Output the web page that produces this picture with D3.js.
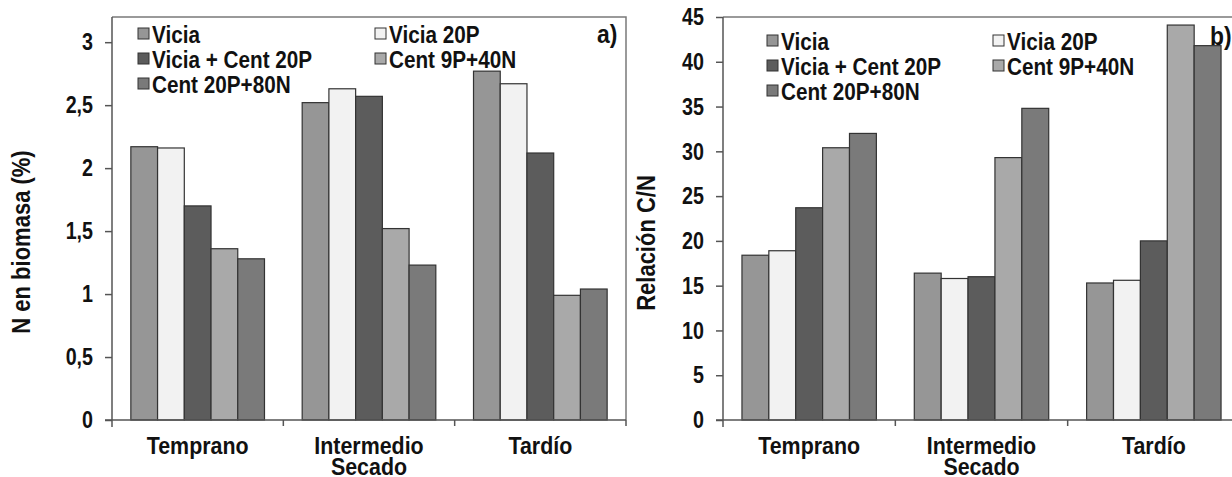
<!DOCTYPE html>
<html>

<head>
    <meta charset="UTF-8">
    <title>N en biomasa y relación C/N</title>
    <style>
        body {
            margin: 0;
            background-color: white;
        }
        svg text {
            font-family: "Liberation Sans", Arial, sans-serif;
            font-weight: bold;
            fill: #111;
        }
    </style>
</head>

<body>
    <svg></svg>
    <script src="https://d3js.org/d3.v7.min.js"></script>
    <script>
        // categories (momento de secado) and treatments
        let categories = ["Temprano", "Intermedio", "Tardío"]
        let catLines = [["Temprano"], ["Intermedio", "Secado"], ["Tardío"]]
        let series = ["Vicia", "Vicia 20P", "Vicia + Cent 20P", "Cent 9P+40N", "Cent 20P+80N"]
        let seriesColor = d3.scaleOrdinal(series, ["#969696", "#f2f2f2", "#5c5c5c", "#a9a9a9", "#7a7a7a"])

        // N en biomasa (%), one row per category, one value per treatment
        let nBiomasa = [
            [2.17, 2.16, 1.70, 1.36, 1.28],
            [2.52, 2.63, 2.57, 1.52, 1.23],
            [2.77, 2.67, 2.12, 0.99, 1.04]
        ]
        let nTicks = [0, 0.5, 1, 1.5, 2, 2.5, 3]

        // Relación C/N
        let relacionCN = [
            [18.4, 18.9, 23.7, 30.4, 32.0],
            [16.4, 15.8, 16.0, 29.3, 34.8],
            [15.3, 15.6, 20.0, 44.1, 41.8]
        ]
        let cnTicks = [0, 5, 10, 15, 20, 25, 30, 35, 40, 45]

        let width = 1232, height = 477;
        let svg = d3.select("svg")
            .attr("width", width)
            .attr("height", height)

        let fmt = d => String(d).replace(".", ",")

        // the original lettering is tall and narrow
        function condense(sel, f) {
            sel.each(function () {
                let w = this.getComputedTextLength()
                d3.select(this).attr("textLength", w * f).attr("lengthAdjust", "spacingAndGlyphs")
            })
        }

        function drawPanel(p) {
            let g = svg.append("g")

            let x = d3.scaleBand()
                .domain(categories)
                .range([p.left, p.right])
                .paddingInner(0.22)
                .paddingOuter(0.11)
            let xs = d3.scaleBand()
                .domain(series)
                .range([0, x.bandwidth()])
            let y = d3.scaleLinear()
                .domain([0, p.max])
                .range([p.bottom, p.top])

            // frame (top and right)
            g.append("path")
                .attr("d", "M" + p.left + "," + p.top + "H" + p.frameRight + "V" + p.bottom)
                .attr("fill", "none")
                .attr("stroke", "#7a7a7a")
                .attr("stroke-width", 1.5)

            // bars
            categories.forEach((c, i) => {
                g.append("g")
                    .selectAll("rect")
                    .data(p.values[i])
                    .enter()
                    .append("rect")
                    .attr("x", (d, j) => x(c) + xs(series[j]))
                    .attr("width", xs.bandwidth())
                    .attr("y", d => y(d))
                    .attr("height", d => p.bottom - y(d))
                    .attr("fill", (d, j) => seriesColor(series[j]))
                    .attr("stroke", "#333")
                    .attr("stroke-width", 1.2)
            })

            // y axis
            let yAxis = g.append("g")
                .attr("transform", "translate(" + p.left + ",0)")
                .call(d3.axisLeft(y).tickValues(p.ticks).tickFormat(fmt).tickSize(7).tickPadding(12).tickSizeOuter(0))
            yAxis.select(".domain").attr("stroke", "#555").attr("stroke-width", 1.5)
                .attr("d", "M0," + p.top + "V" + (p.bottom + 7))
            yAxis.selectAll(".tick line").attr("stroke", "#555").attr("stroke-width", 1.5)
            yAxis.selectAll(".tick text").style("font-size", "24px").attr("fill", "#111")
                .call(condense, 0.82)

            // x axis with ticks at the category borders
            g.append("line")
                .attr("x1", p.left - 7).attr("x2", p.frameRight)
                .attr("y1", p.bottom).attr("y2", p.bottom)
                .attr("stroke", "#555").attr("stroke-width", 1.5)
            let borders = categories.map(c => x(c) - x.step() * x.paddingInner() / 2)
            borders[0] = p.left
            borders.push(p.frameRight)
            g.append("g")
                .selectAll("line")
                .data(borders.slice(1))
                .enter()
                .append("line")
                .attr("x1", d => d).attr("x2", d => d)
                .attr("y1", p.bottom).attr("y2", p.bottom + 6)
                .attr("stroke", "#555").attr("stroke-width", 1.5)

            // category labels, one text per line
            categories.forEach((c, i) => {
                catLines[i].forEach((s, k) => {
                    g.append("text")
                        .attr("text-anchor", "middle")
                        .attr("x", x(c) + x.bandwidth() / 2)
                        .attr("y", p.bottom + 34 + k * 21)
                        .style("font-size", "23px")
                        .text(s)
                        .call(condense, 0.93)
                })
            })

            // y title
            g.append("text")
                .attr("transform", "translate(" + p.titleX + "," + p.titleY + ") rotate(-90)")
                .attr("text-anchor", "middle")
                .style("font-size", "25px")
                .text(p.title)
                .call(condense, 0.88)

            // panel letter
            g.append("text")
                .attr("x", p.letterX)
                .attr("y", p.letterY)
                .style("font-size", "26px")
                .text(p.letter)
                .call(condense, 0.88)

            // legend, two columns
            let lg = g.append("g")
            series.forEach((s, j) => {
                let lx = p.legX + (j % 2) * p.legCol
                let ly = p.legY + Math.floor(j / 2) * p.legRow
                lg.append("rect")
                    .attr("x", lx).attr("y", ly - 7)
                    .attr("width", 11).attr("height", 11)
                    .attr("fill", seriesColor(s))
                    .attr("stroke", "#333")
                    .attr("stroke-width", 1)
                lg.append("text")
                    .attr("x", lx + 14)
                    .attr("y", ly + 8)
                    .style("font-size", "23px")
                    .text(s)
                    .call(condense, 0.9)
            })
        }

        drawPanel({
            left: 112, right: 626, frameRight: 626, top: 17, bottom: 420, max: 3.2,
            values: nBiomasa, ticks: nTicks, title: "N en biomasa (%)", titleX: 30, titleY: 242,
            letter: "a)", letterX: 597, letterY: 43,
            legX: 138, legY: 35, legCol: 237, legRow: 25
        })

        drawPanel({
            left: 723, right: 1240, frameRight: 1240, top: 17, bottom: 420, max: 45,
            values: relacionCN, ticks: cnTicks, title: "Relación C/N", titleX: 655, titleY: 243,
            letter: "b)", letterX: 1210, letterY: 45,
            legX: 767, legY: 42, legCol: 226, legRow: 25
        })
    </script>

</body>

</html>
